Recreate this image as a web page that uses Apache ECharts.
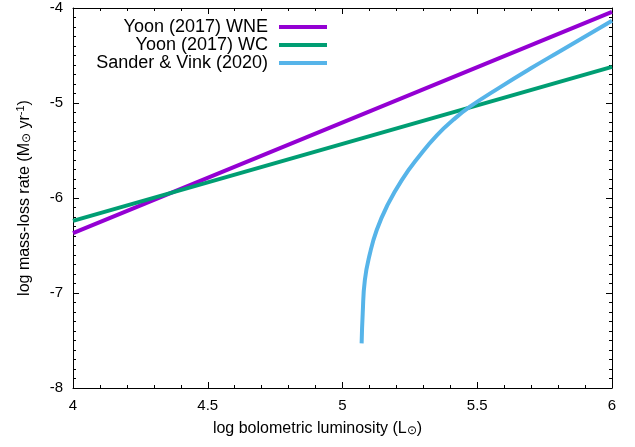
<!DOCTYPE html>
<html>
<head>
<meta charset="utf-8">
<script src="https://cdn.jsdelivr.net/npm/echarts@6/dist/echarts.min.js"></script>
<style>
  html, body { margin: 0; padding: 0; background: #fff; }
  #chart { width: 635px; height: 447px; }
</style>
</head>
<body>
<div id="chart"></div>
<script>
// Yoon (2017) straight-line prescriptions, read at the plot edges
var wneX = [4, 6]
var wneY = [-6.37, -4.04]
var wcX = [4, 6]
var wcY = [-6.24, -4.62]
// Sander & Vink (2020)
var svX = [5.071, 5.075, 5.083, 5.102, 5.127, 5.164, 5.220, 5.288, 5.35, 5.41, 5.473, 5.584, 5.696, 5.807, 6.0]
var svY = [-7.53, -7.214, -6.863, -6.582, -6.337, -6.092, -5.811, -5.547, -5.34, -5.18, -5.039, -4.835, -4.64, -4.455, -4.135]

var names = ['Yoon (2017) WNE', 'Yoon (2017) WC', 'Sander & Vink (2020)']
var colors = ['#9400d3', '#009e73', '#56b4e9']

function pairs(xs, ys) {
  return xs.map(function(x, i) { return [x, ys[i]] })
}

var font = 'Liberation Sans, Arial, sans-serif'
var myChart = echarts.init(document.getElementById('chart'))

function frameAxis(extra, minorSplit) {
  return Object.assign({
    axisLine: { show: true, onZero: false, lineStyle: { color: '#000', width: 1 } },
    axisTick: { show: true, inside: true, length: 6, lineStyle: { color: '#000' } },
    minorTick: { show: true, splitNumber: minorSplit, length: 3, lineStyle: { color: '#000' } },
    splitLine: { show: false }
  }, extra)
}

var option = {
  animation: false,
  grid: { left: 73, right: 23, top: 8, bottom: 59 },
  legend: {
    orient: 'vertical',
    right: 303,
    top: 13,
    align: 'right',
    itemWidth: 48,
    itemHeight: 4,
    itemGap: 0,
    icon: 'rect',
    textStyle: { fontFamily: font, fontSize: 18, lineHeight: 18, color: '#000', padding: [0, 6, 0, 0] },
    data: names
  },
  xAxis: [
    frameAxis({
      type: 'value', min: 4, max: 6, interval: 0.5, position: 'bottom',
      axisLabel: { fontFamily: font, fontSize: 15, color: '#000', margin: 10 },
      name: 'log bolometric luminosity (L{s|⊙})',
      nameLocation: 'middle',
      nameGap: 33,
      nameTextStyle: {
        fontFamily: font, fontSize: 16, color: '#000', padding: [0, 50, 0, 0],
        rich: { s: { fontSize: 12, fontFamily: font, color: '#000', padding: [4, 0, 0, 0] } }
      }
    }, 5),
    frameAxis({
      type: 'value', min: 4, max: 6, interval: 0.5, position: 'top',
      axisLabel: { show: false }
    }, 5)
  ],
  yAxis: [
    frameAxis({
      type: 'value', min: -8, max: -4, interval: 1, position: 'left',
      axisLabel: { fontFamily: font, fontSize: 15, color: '#000', margin: 10 },
      name: 'log mass-loss rate (M{s|⊙} yr{p|-1})',
      nameLocation: 'middle',
      nameGap: 39,
      nameRotate: 90,
      nameTextStyle: {
        fontFamily: font, fontSize: 16, color: '#000',
        rich: {
          s: { fontSize: 12, fontFamily: font, color: '#000', padding: [4, 0, 0, 0] },
          p: { fontSize: 11, fontFamily: font, color: '#000', padding: [0, 0, 8, 0] }
        }
      }
    }, 10),
    frameAxis({
      type: 'value', min: -8, max: -4, interval: 1, position: 'right',
      axisLabel: { show: false }
    }, 10)
  ],
  series: [
    {
      name: names[0], type: 'line', data: pairs(wneX, wneY), showSymbol: false,
      color: colors[0], lineStyle: { width: 4 }
    },
    {
      name: names[1], type: 'line', data: pairs(wcX, wcY), showSymbol: false,
      color: colors[1], lineStyle: { width: 4 }
    },
    {
      name: names[2], type: 'line', data: pairs(svX, svY), showSymbol: false,
      smooth: 0.5,
      color: colors[2], lineStyle: { width: 4 }
    }
  ]
}

myChart.setOption(option)
</script>
</body>
</html>
